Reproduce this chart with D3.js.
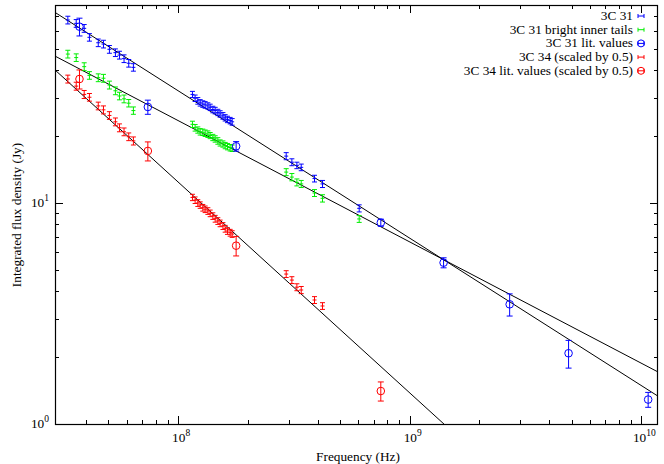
<!DOCTYPE html>
<html>
<head>
<meta charset="utf-8">
<script src="https://cdn.jsdelivr.net/npm/d3@7"></script>
<style>
body { margin: 0; background: #fff; }
text { font-family: "Liberation Serif", "DejaVu Serif", serif; font-size: 13.3px; fill: #000; }
</style>
</head>
<body>
<svg id="chart" width="664" height="464"></svg>
<script>
// frequencies in MHz, fluxes in Jy
const freqLow = [33.4, 36.3, 39.3, 41.4, 45.2, 47.6, 50.5, 53.6, 55.8, 58.4, 61.2, 64.1];
const freqMid = [115.3, 118.4, 121.6, 124.5, 127.8, 130.8, 134.4, 137.5, 141.2, 144.5, 148.4, 151.8, 156.1, 159.6, 163.3, 167.7, 171.1];
const freqHigh = [292.8, 309.8, 325.6, 340, 388, 420, 605];

// 3C 31
const c31Flux = [67.3, 65.0, 61.7, 56.2, 53.1, 52.4, 49.6, 47.9, 46.7, 45.0, 42.9, 41.1,
  31.0, 29.8, 29.0, 28.4, 28.05, 27.8, 27.5, 27.1, 26.5, 26.2, 25.7, 25.3, 24.8, 24.3, 23.9, 23.6, 23.3,
  16.3, 15.3, 14.8, 14.5, 12.9, 12.2, 9.46];
const c31Err = [2.7, 2.6, 2.5, 2.2, 2.1, 2.1, 2.0, 1.9, 1.9, 1.8, 1.7, 1.6,
  1.0, 1.0, 1.0, 0.95, 0.95, 0.95, 0.9, 0.9, 0.9, 0.9, 0.85, 0.85, 0.85, 0.8, 0.8, 0.8, 0.8,
  0.6, 0.55, 0.5, 0.5, 0.45, 0.45, 0.35];

// 3C 31 bright inner tails
const tailFlux = [47.2, 45.5, 41.4, 37.8, 36.9, 36.7, 34.2, 32.2, 30.5, 29.6, 28.3, 26.2,
  22.7, 21.9, 21.4, 21.0, 20.9, 20.7, 20.5, 20.2, 19.8, 19.5, 19.1, 18.7, 18.5, 18.2, 18.0, 17.8, 17.7,
  13.8, 13.1, 12.4, 12.2, 11.1, 10.5, 8.47];
const tailErr = [1.9, 1.8, 1.7, 1.5, 1.5, 1.5, 1.4, 1.3, 1.2, 1.2, 1.1, 1.0,
  0.75, 0.75, 0.7, 0.7, 0.7, 0.7, 0.7, 0.65, 0.65, 0.65, 0.65, 0.6, 0.6, 0.6, 0.6, 0.6, 0.6,
  0.5, 0.5, 0.45, 0.45, 0.4, 0.4, 0.3];

// 3C 34 (scaled by 0.5)
const c34Flux = [36.4, 33.8, 31.0, 30.1, 27.5, 26.4, 24.9, 23.3, 21.9, 21.0, 19.95, 19.1,
  10.6, 10.3, 10.0, 9.79, 9.52, 9.37, 9.20, 8.98, 8.73, 8.49, 8.29, 8.09, 7.87, 7.65, 7.47, 7.34, 7.24,
  4.77, 4.48, 4.16, 4.04, 3.64, 3.42];
const c34Err = [1.5, 1.4, 1.3, 1.2, 1.1, 1.1, 1.0, 0.95, 0.9, 0.85, 0.8, 0.8,
  0.35, 0.35, 0.35, 0.33, 0.33, 0.32, 0.32, 0.31, 0.3, 0.3, 0.29, 0.28, 0.28, 0.27, 0.26, 0.26, 0.25,
  0.17, 0.16, 0.15, 0.15, 0.13, 0.12];

// literature values
const c31LitFreq = [37.5, 74, 178, 750, 1400, 2700, 4850, 10700];
const c31LitFlux = [62.8, 27.2, 18.06, 8.15, 5.37, 3.48, 2.09, 1.29];
const c31LitErr = [5.8, 2.0, 0.9, 0.3, 0.28, 0.4, 0.3, 0.1];
const c34LitFreq = [37.5, 74, 178, 750];
const c34LitFlux = [36.4, 17.2, 6.41, 1.41];
const c34LitErr = [3.6, 1.7, 0.65, 0.14];

// power-law fits: flux at 100 MHz and spectral index
const fitNames = ["3C 31", "tails", "3C 34"];
const fitS100 = [32.2, 23.6, 12.44];
const fitAlpha = [-0.667, -0.549, -0.954];

const legendLabels = ["3C 31", "3C 31 bright inner tails", "3C 31 lit. values", "3C 34 (scaled by 0.5)", "3C 34 lit. values (scaled by 0.5)"];

const pLeft = 55, pRight = 658, pTop = 5, pBottom = 424;

const x = d3.scaleLog().domain([2.94e7, 1.18e10]).range([pLeft, pRight]);
const y = d3.scaleLog().domain([1, 78.7]).range([pBottom, pTop]);

const svg = d3.select("#chart");

svg.append("defs").append("clipPath").attr("id", "clip")
  .append("rect").attr("x", pLeft).attr("y", pTop)
  .attr("width", pRight - pLeft).attr("height", pBottom - pTop);

// ticks on all four sides, pointing inwards
const xDom = x.domain();
const xMinor = [], yMinor = [];
for (let e = 7; e <= 10; e++) for (let m = 2; m <= 9; m++) {
  const v = m * Math.pow(10, e);
  if (x(v) > pLeft + 3 && x(v) < pRight - 3) xMinor.push(v);
}
for (let e = 0; e <= 1; e++) for (let m = 2; m <= 9; m++) {
  const v = m * Math.pow(10, e);
  if (y(v) > pTop + 3 && y(v) < pBottom - 3) yMinor.push(v);
}
const xMajor = [1e8, 1e9, 1e10];
const yMajor = [1, 10];

const ticks = svg.append("g").attr("stroke", "#000").attr("stroke-width", 1);
function xTick(v, len) {
  const px = Math.round(x(v)) + 0.5;
  ticks.append("line").attr("x1", px).attr("x2", px).attr("y1", pBottom).attr("y2", pBottom - len);
  ticks.append("line").attr("x1", px).attr("x2", px).attr("y1", pTop).attr("y2", pTop + len);
}
function yTick(v, len) {
  const py = Math.round(y(v)) + 0.5;
  ticks.append("line").attr("y1", py).attr("y2", py).attr("x1", pLeft).attr("x2", pLeft + len);
  ticks.append("line").attr("y1", py).attr("y2", py).attr("x1", pRight).attr("x2", pRight - len);
}
xMinor.forEach(v => xTick(v, 4));
xMajor.forEach(v => xTick(v, 8));
yMinor.forEach(v => yTick(v, 4));
yMajor.forEach(v => yTick(v, 8));

// tick labels 10^n
xMajor.forEach(v => {
  const t = svg.append("text").attr("x", x(v) + 3).attr("y", 442).attr("text-anchor", "middle");
  t.append("tspan").text("10");
  t.append("tspan").attr("dy", -6).style("font-size", "9.5px").text(Math.round(Math.log10(v)));
});
yMajor.forEach(v => {
  const t = svg.append("text").attr("x", 49).attr("y", y(v) + 4).attr("text-anchor", "end");
  t.append("tspan").text("10");
  t.append("tspan").attr("dy", -6).style("font-size", "9.5px").text(Math.round(Math.log10(v)));
});

// axis titles
svg.append("text").attr("x", 358).attr("y", 461).attr("text-anchor", "middle").text("Frequency (Hz)");
svg.append("text").attr("transform", "translate(21," + 215 + ") rotate(-90)")
  .attr("text-anchor", "middle").text("Integrated flux density (Jy)");

// fit lines
const plot = svg.append("g").attr("clip-path", "url(#clip)");
fitNames.forEach((n, i) => {
  const f = nu => fitS100[i] * Math.pow(nu / 1e8, fitAlpha[i]);
  plot.append("line")
    .attr("x1", x(xDom[0])).attr("y1", y(f(xDom[0])))
    .attr("x2", x(xDom[1])).attr("y2", y(f(xDom[1])))
    .attr("stroke", "#000").attr("stroke-width", 1);
});

// error bar markers
function errorBars(freqs, flux, err, color, circle) {
  const g = plot.append("g").attr("stroke", color).attr("fill", "none").attr("stroke-width", 1);
  freqs.forEach((f, i) => {
    const px = x(f * 1e6), py = y(flux[i]);
    const y1 = y(flux[i] + err[i]), y2 = y(flux[i] - err[i]);
    const cw = circle ? 3 : 2.5;
    g.append("line").attr("x1", px).attr("x2", px).attr("y1", y1).attr("y2", y2);
    g.append("line").attr("x1", px - cw).attr("x2", px + cw).attr("y1", y1).attr("y2", y1);
    g.append("line").attr("x1", px - cw).attr("x2", px + cw).attr("y1", y2).attr("y2", y2);
    if (circle) {
      g.append("circle").attr("cx", px).attr("cy", py).attr("r", 3.8);
    } else {
      g.append("line").attr("x1", px - 2).attr("x2", px + 2).attr("y1", py).attr("y2", py);
    }
  });
}

const blue = "#0000ff", green = "#00ee00", red = "#ff0000";
errorBars(freqLow.concat(freqMid, freqHigh), c31Flux, c31Err, blue, false);
errorBars(freqLow.concat(freqMid, freqHigh), tailFlux, tailErr, green, false);
errorBars(c31LitFreq, c31LitFlux, c31LitErr, blue, true);
errorBars(freqLow.concat(freqMid, freqHigh.slice(0, 6)), c34Flux, c34Err, red, false);
errorBars(c34LitFreq, c34LitFlux, c34LitErr, red, true);

// legend
const legendColors = [blue, green, blue, red, red];
const legendCircle = [false, false, true, false, true];
legendLabels.forEach((lab, i) => {
  const cy = 16 + i * 13.7;
  svg.append("text").attr("x", 633).attr("y", cy + 4).attr("text-anchor", "end").text(lab);
  const g = svg.append("g").attr("stroke", legendColors[i]).attr("fill", "none").attr("stroke-width", 1);
  g.append("line").attr("x1", 638).attr("x2", 644).attr("y1", cy).attr("y2", cy);
  g.append("line").attr("x1", 638).attr("x2", 638).attr("y1", cy - 2).attr("y2", cy + 2);
  g.append("line").attr("x1", 644).attr("x2", 644).attr("y1", cy - 2).attr("y2", cy + 2);
  if (legendCircle[i]) g.append("circle").attr("cx", 641).attr("cy", cy).attr("r", 3.5);
});

// frame
svg.append("rect").attr("x", pLeft + 0.5).attr("y", pTop + 0.5)
  .attr("width", pRight - pLeft - 1).attr("height", pBottom - pTop)
  .attr("fill", "none").attr("stroke", "#000").attr("stroke-width", 1.2);
</script>
</body>
</html>
